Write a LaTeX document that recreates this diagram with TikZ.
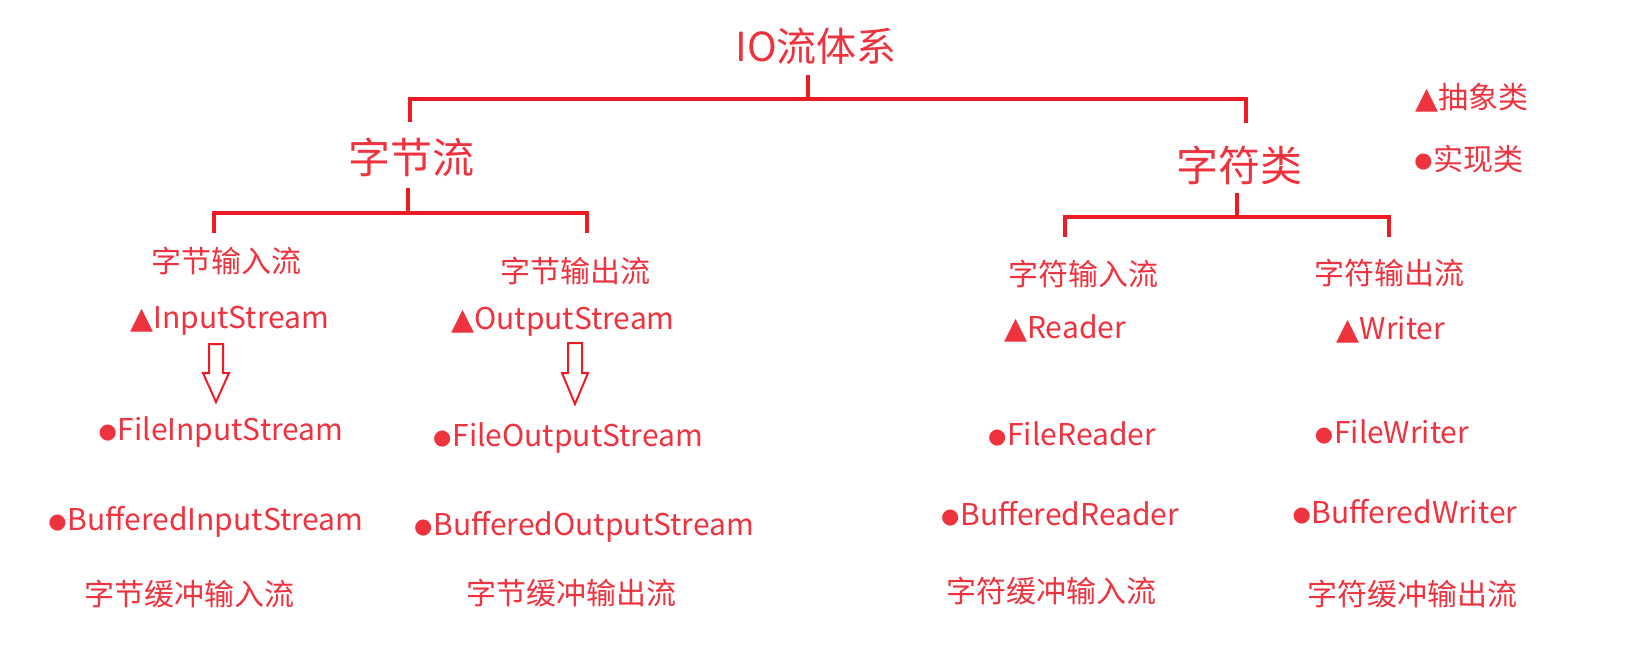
\documentclass[tikz,border=0pt]{standalone}
\usepackage{fontspec}
\setmainfont{Noto Sans CJK SC}
\newfontfamily\symf{DejaVu Sans}
\definecolor{ln}{RGB}{237,28,36}
\definecolor{tx}{RGB}{238,50,62}
\tikzset{
  toptxt/.style={font=\fontsize{40}{46}\selectfont, text=tx, inner sep=0pt},
  bigtxt/.style={font=\fontsize{42}{48}\selectfont, text=tx, inner sep=0pt},
  lbl/.style={font=\fontsize{30}{36}\selectfont, text=tx, inner sep=0pt},
  conn/.style={draw=ln, line width=4.5pt, line join=miter},
  hollow/.style={draw=ln, line width=2pt, line join=miter},
}
\newcommand{\tri}{{\symf ▲}}
\newcommand{\dotc}{\raisebox{2.5pt}{\symf\fontsize{21}{21}\selectfont ●}\kern1pt}
\begin{document}
\begin{tikzpicture}[x=1pt,y=-1pt]
\useasboundingbox (0,0) rectangle (1636,671);
% headings
\node[toptxt] (io) at (816,46) {IO流体系};
\node[bigtxt] (bytes) at (411,157) {字节流};
\node[bigtxt] (chars) at (1239,165) {字符类};
\node[lbl] (abs) at (1472,98) {\tri 抽象类};
\node[lbl] (impl) at (1469,159) {\dotc 实现类};
% second level
\node[lbl] (bin) at (226,261) {字节输入流};
\node[lbl] (bout) at (575,271) {字节输出流};
\node[lbl] (cin) at (1083,274) {字符输入流};
\node[lbl] (cout) at (1389,273) {字符输出流};
% abstract classes
\node[lbl] (is) at (230,321) {\tri InputStream};
\node[lbl] (os) at (563,322) {\tri OutputStream};
\node[lbl] (rd) at (1065,328) {\tri Reader};
\node[lbl] (wr) at (1391,330) {\tri Writer};
% implementations
\node[lbl] (fis) at (221,432) {\dotc FileInputStream};
\node[lbl] (fos) at (568,438) {\dotc FileOutputStream};
\node[lbl] (frd) at (1072,434) {\dotc FileReader};
\node[lbl] (fwr) at (1392,432) {\dotc FileWriter};
\node[lbl] (bis) at (206,522) {\dotc BufferedInputStream};
\node[lbl] (bos) at (584,527) {\dotc BufferedOutputStream};
\node[lbl] (brd) at (1060,514) {\dotc BufferedReader};
\node[lbl] (bwr) at (1405,512) {\dotc BufferedWriter};
\node[lbl] (bbin) at (189,594) {字节缓冲输入流};
\node[lbl] (bbout) at (571,593) {字节缓冲输出流};
\node[lbl] (cbin) at (1051,591) {字符缓冲输入流};
\node[lbl] (cbout) at (1412,594) {字符缓冲输出流};
% bracket coordinates
\coordinate (r0) at (808,75);
\coordinate (r1) at (808,99);
\coordinate (rl) at (410,122);
\coordinate (rr) at (1246,123);
\coordinate (b0) at (408,188);
\coordinate (b1) at (408,213);
\coordinate (bl) at (214,233);
\coordinate (br) at (587,233);
\coordinate (c0) at (1237,193);
\coordinate (c1) at (1237,217);
\coordinate (cl) at (1065,237);
\coordinate (cr) at (1389,237);
\draw[conn] (r0) -- (r1);
\draw[conn] (rl) |- (r1) -| (rr);
\draw[conn] (b0) -- (b1);
\draw[conn] (bl) |- (b1) -| (br);
\draw[conn] (c0) -- (c1);
\draw[conn] (cl) |- (c1) -| (cr);
% hollow arrows
\coordinate (a1) at (216,344);
\coordinate (a2) at (575,343);
\draw[hollow] (a1) ++(-7,0) -- ++(14,0) -- ++(0,29) -- ++(6,0) -- ++(-13,29) -- ++(-13,-29) -- ++(6,0) -- cycle;
\draw[hollow] (a2) ++(-7,0) -- ++(14,0) -- ++(0,30) -- ++(6,0) -- ++(-13,31) -- ++(-13,-31) -- ++(6,0) -- cycle;
\end{tikzpicture}
\end{document}
